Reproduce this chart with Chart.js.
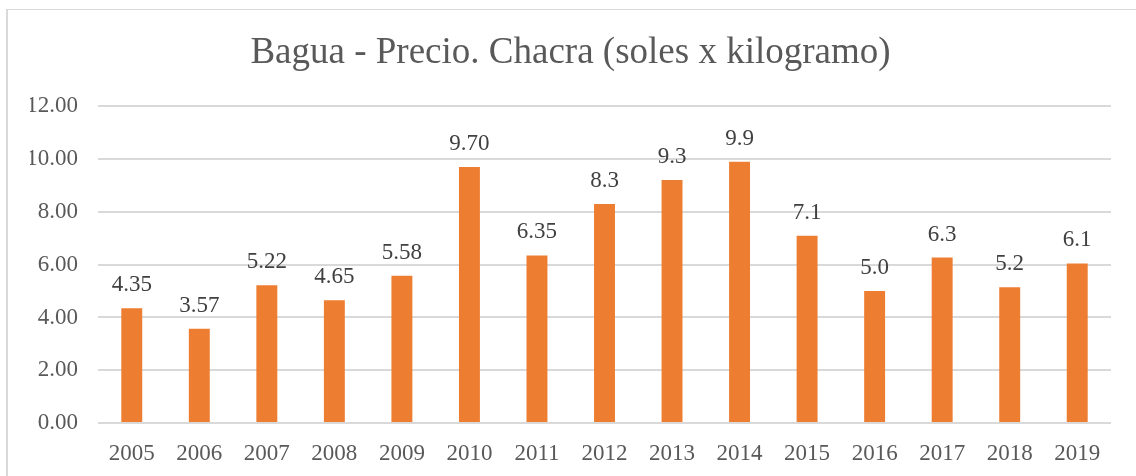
<!DOCTYPE html>
<html>
<head>
<meta charset="utf-8">
<script src="https://cdn.jsdelivr.net/npm/chart.js@4/dist/chart.umd.min.js"></script>
<style>
  html, body { margin: 0; padding: 0; background: #fff; }
  #marco {
    position: absolute; left: 6px; top: 9px; width: 1200px; height: 520px;
    border-left: 2px solid #d9d9d9; border-top: 1px solid #d9d9d9;
  }
  #caja { position: absolute; left: 0; top: 0; width: 1136px; height: 476px; }
</style>
</head>
<body>
<div id="marco"></div>
<div id="caja"><canvas id="grafico"></canvas></div>
<script>
// datos
const anios = ["2005", "2006", "2007", "2008", "2009", "2010", "2011", "2012", "2013", "2014", "2015", "2016", "2017", "2018", "2019"];
const precios = [4.35, 3.57, 5.22, 4.65, 5.58, 9.70, 6.35, 8.30, 9.21, 9.90, 7.10, 5.00, 6.27, 5.15, 6.05];
// etiquetas tal como aparecen encima de cada barra
const etiquetas = ["4.35", "3.57", "5.22", "4.65", "5.58", "9.70", "6.35", "8.3", "9.3", "9.9", "7.1", "5.0", "6.3", "5.2", "6.1"];
const marcasY = [0, 2, 4, 6, 8, 10, 12];

const fuente = "'Liberation Serif', 'Times New Roman', serif";

// plugin simple para los valores encima de las barras
const valoresBarras = {
  id: "valoresBarras",
  afterDatasetsDraw(chart) {
    const ctx = chart.ctx;
    const meta = chart.getDatasetMeta(0);
    ctx.save();
    ctx.font = "23px " + fuente;
    ctx.fillStyle = "#404040";
    ctx.textAlign = "center";
    ctx.textBaseline = "alphabetic";
    meta.data.forEach((barra, i) => {
      ctx.fillText(etiquetas[i], barra.x, barra.y - 17);
    });
    ctx.restore();
  }
};

new Chart(document.getElementById("grafico"), {
  type: "bar",
  data: {
    labels: anios,
    datasets: [{
      data: precios,
      backgroundColor: "#ED7D31",
      categoryPercentage: 1,
      barPercentage: 0.31
    }]
  },
  options: {
    responsive: true,
    maintainAspectRatio: false,
    animation: false,
    layout: { padding: { left: 30, right: 25, top: 0, bottom: 0 } },
    plugins: {
      legend: { display: false },
      tooltip: { enabled: false },
      title: {
        display: true,
        text: "Bagua - Precio. Chacra (soles x kilogramo)",
        color: "#595959",
        font: { family: fuente, size: 37, weight: "normal", lineHeight: 1.2 },
        padding: { top: 31, bottom: 31 }
      }
    },
    scales: {
      x: {
        grid: { display: false, drawTicks: false },
        border: { display: false },
        ticks: { color: "#595959", font: { family: fuente, size: 23 }, padding: 17, maxRotation: 0 },
        afterFit: (s) => { s.height = 53; }
      },
      y: {
        min: 0,
        max: 12,
        afterBuildTicks: (s) => { s.ticks = marcasY.map(v => ({ value: v })); },
        grid: { color: "#d9d9d9", lineWidth: 2, drawTicks: false },
        border: { display: false },
        ticks: {
          color: "#595959",
          font: { family: fuente, size: 23 },
          padding: 20,
          callback: (v) => Number(v).toFixed(2)
        },
        afterFit: (s) => { s.width = 68; }
      }
    }
  },
  plugins: [valoresBarras]
});
</script>
</body>
</html>
